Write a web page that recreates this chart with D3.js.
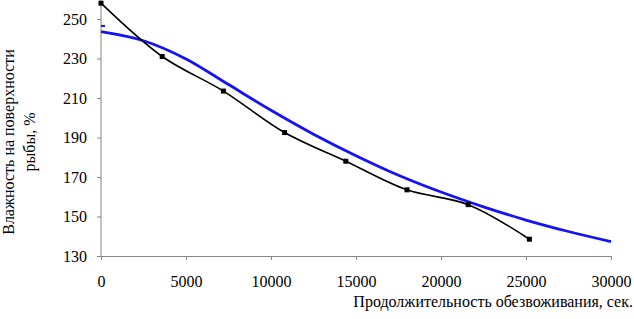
<!DOCTYPE html>
<html>
<head>
<meta charset="utf-8">
<script src="https://cdn.jsdelivr.net/npm/d3@7"></script>
<style>
  body { margin: 0; background: #fff; }
  svg text { font-family: "Liberation Serif", "Tinos", "Times New Roman", "DejaVu Serif", serif; }
</style>
</head>
<body>
<div id="chart"></div>
<script>
// Measured data (black, with markers) — time in sec, moisture in %
const timeSec = [0, 3600, 7200, 10800, 14400, 18000, 21600, 25200];
const moisture = [258, 231, 213.5, 192.5, 178, 163.5, 156, 138.5];

// Trend line (blue)
const trendTime = [0, 2500, 5000, 7500, 10000, 12500, 15000, 17500, 20000, 22500, 25000, 27500, 30000];
const trendMoisture = [243.6, 239, 229.8, 216.8, 203.8, 191.7, 180.8, 170.9, 162.4, 154.9, 148.2, 142.4, 137.3];

// stray blue dash at the start of the trend
const trendMarker = [[0, 246.5]];

const xTicks = [0, 5000, 10000, 15000, 20000, 25000, 30000];
const yTicks = [130, 150, 170, 190, 210, 230, 250];

const width = 634, height = 319;
const serif = "'Liberation Serif', Tinos, 'Times New Roman', 'DejaVu Serif', serif";

const svg = d3.select("#chart").append("svg")
  .attr("width", width)
  .attr("height", height);

// Scales
const x = d3.scaleLinear().domain([0, 30000]).range([101, 611]);
const y = d3.scaleLinear().domain([130, 260]).range([256, -0.75]);

const axisColor = "#858585";

// Y axis
const yAxis = svg.append("g")
  .attr("transform", "translate(101,0)")
  .call(d3.axisLeft(y).tickValues(yTicks).tickSize(4).tickSizeOuter(0).tickPadding(10));
yAxis.select(".domain").remove();
yAxis.append("line")
  .attr("x1", 0).attr("x2", 0)
  .attr("y1", 0).attr("y2", y(130))
  .attr("stroke", axisColor);

// X axis
const xAxis = svg.append("g")
  .attr("transform", `translate(0,${y(130)})`)
  .call(d3.axisBottom(x).tickValues(xTicks).tickFormat(d3.format("d")).tickSize(4).tickSizeOuter(0).tickPadding(16));

svg.selectAll("g").attr("font-family", serif);
svg.selectAll(".tick line").attr("stroke", axisColor);
xAxis.select(".domain").attr("stroke", axisColor);
svg.selectAll(".tick text")
  .attr("fill", "#000")
  .attr("font-family", serif)
  .attr("font-size", 16);

// Trend line
const trendData = trendTime.map((t, i) => [t, trendMoisture[i]]);
svg.append("path")
  .datum(trendData)
  .attr("fill", "none")
  .attr("stroke", "#1414f0")
  .attr("stroke-width", 2.8)
  .attr("d", d3.line().x(d => x(d[0])).y(d => y(d[1])).curve(d3.curveCatmullRom));

svg.selectAll(".trend-mark")
  .data(trendMarker)
  .enter().append("rect")
  .attr("class", "trend-mark")
  .attr("x", d => x(d[0]))
  .attr("y", d => y(d[1]) - 1)
  .attr("width", 4)
  .attr("height", 2)
  .attr("fill", "#1414f0");

// Measured line
const data = timeSec.map((t, i) => [t, moisture[i]]);
svg.append("path")
  .datum(data)
  .attr("fill", "none")
  .attr("stroke", "#000")
  .attr("stroke-width", 1.6)
  .attr("d", d3.line().x(d => x(d[0])).y(d => y(d[1])).curve(d3.curveCatmullRom));

svg.selectAll(".mark")
  .data(data)
  .enter().append("rect")
  .attr("class", "mark")
  .attr("x", d => x(d[0]) - 2.5)
  .attr("y", d => y(d[1]) - 2.5)
  .attr("width", 5)
  .attr("height", 5)
  .attr("fill", "#000");

// Axis titles
svg.append("text")
  .attr("x", 633)
  .attr("y", 307)
  .attr("text-anchor", "end")
  .attr("font-family", serif)
  .attr("font-size", 16)
  .text("Продолжительность обезвоживания, сек.");

const yTitle = svg.append("text")
  .attr("transform", "translate(14,142) rotate(-90)")
  .attr("text-anchor", "middle")
  .attr("font-family", serif)
  .attr("font-size", 16);
yTitle.append("tspan").attr("x", 0).attr("y", 0).text("Влажность на поверхности");
yTitle.append("tspan").attr("x", 0).attr("y", 21).text("рыбы, %");
</script>
</body>
</html>
